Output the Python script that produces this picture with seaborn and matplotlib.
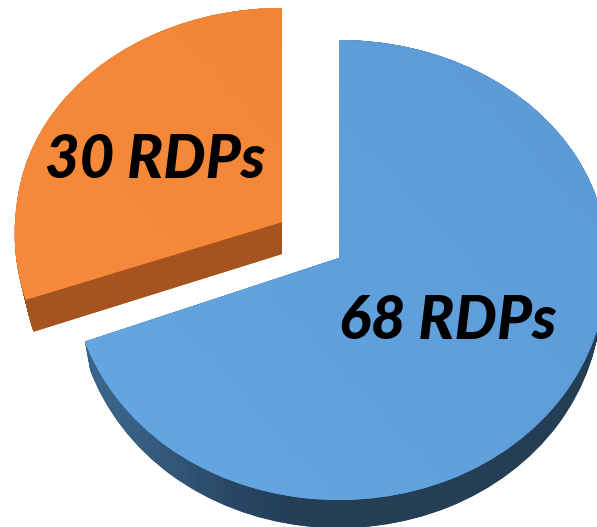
import numpy as np
import matplotlib.pyplot as plt
import seaborn as sns
from matplotlib.transforms import Affine2D

labels = ['68 RDPs', '30 RDPs']
values = [68, 30]

sns.set_theme(style='white')
plt.rcParams['font.family'] = ['Lato', 'DejaVu Sans']

W, H = 597, 527
fig = plt.figure(figsize=(W / 100, H / 100), dpi=100)
ax = fig.add_axes([0, 0, 1, 1])

yy, xx = np.mgrid[0:1:64j, 0:1:64j]
shade = xx - 0.8 * yy
shade = (shade - shade.min()) / (shade.max() - shade.min())
across = xx

layer_z = [2]


def draw_layer(frac, ccw, cx, cy, rx, ry_top, ry_low, flare, cmap, grad):
    # one pie slice squeezed into an ellipse, gradient clipped to it
    wedges, _ = ax.pie([frac], startangle=90, counterclock=ccw, normalize=False,
                       colors=[cmap(0.5)], radius=1,
                       wedgeprops={'linewidth': 0, 'edgecolor': 'none'})
    w = wedges[0]
    v = w.get_path().vertices
    low = v[:, 1] < 0
    v[low, 0] *= 1 - flare * v[low, 1]  # perspective: front of the slice a bit wider
    v[low, 1] *= ry_low / ry_top
    w.set_transform(Affine2D().scale(rx, -ry_top).translate(cx, cy) + ax.transData)
    w.set_zorder(layer_z[0])
    im = ax.imshow(grad, cmap=cmap, extent=(0, W, H, 0), aspect='auto', vmin=0, vmax=1,
                   zorder=layer_z[0] + 0.5)
    im.set_clip_path(w)
    layer_z[0] += 1


total = sum(values)

# blue slice
blue_top = sns.blend_palette(['#68AAE6', '#60A1DD', '#5A99D4'], as_cmap=True)
blue_side = sns.blend_palette(['#4A7DAB', '#3A6389', '#2B4A68', '#243E55', '#243E55', '#243E55', '#243E55', '#243E55'], as_cmap=True)
blue_grad = np.clip((across - 85 / W) / (1 - 85 / W), 0, 1)
for t in np.linspace(1, 0, 29):
    draw_layer(values[0] / total, False, 339, 258 + 28 * t, 268 * (1 - 0.02 * t), 218, 242, 0.03, blue_side, blue_grad)
draw_layer(values[0] / total, False, 339, 258, 268, 218, 242, 0.03, blue_top, shade)

# orange slice, pulled out
orange_top = sns.blend_palette(['#F98C40', '#F58738', '#EE8132'], as_cmap=True)
orange_side = sns.blend_palette(['#A85621', '#A35320'], as_cmap=True)
for t in np.linspace(1, 0, 33):
    draw_layer(values[1] / total, True, 282, 222 + 32 * t, 266 * (1 - 0.03 * t), 214, 225, 0.075, orange_side, shade)
draw_layer(values[1] / total, True, 282, 222, 266, 214, 225, 0.075, orange_top, shade)

ax.set_aspect('auto')
ax.set_xlim(0, W)
ax.set_ylim(H, 0)
ax.axis('off')

txt = dict(ha='center', va='center', color='black', fontsize=43, fontweight='black', fontstyle='italic', zorder=200)
ax.text(448, 321, labels[0], **txt)
ax.text(155, 160, labels[1], **txt)

fig.savefig('out.png', dpi=100)
